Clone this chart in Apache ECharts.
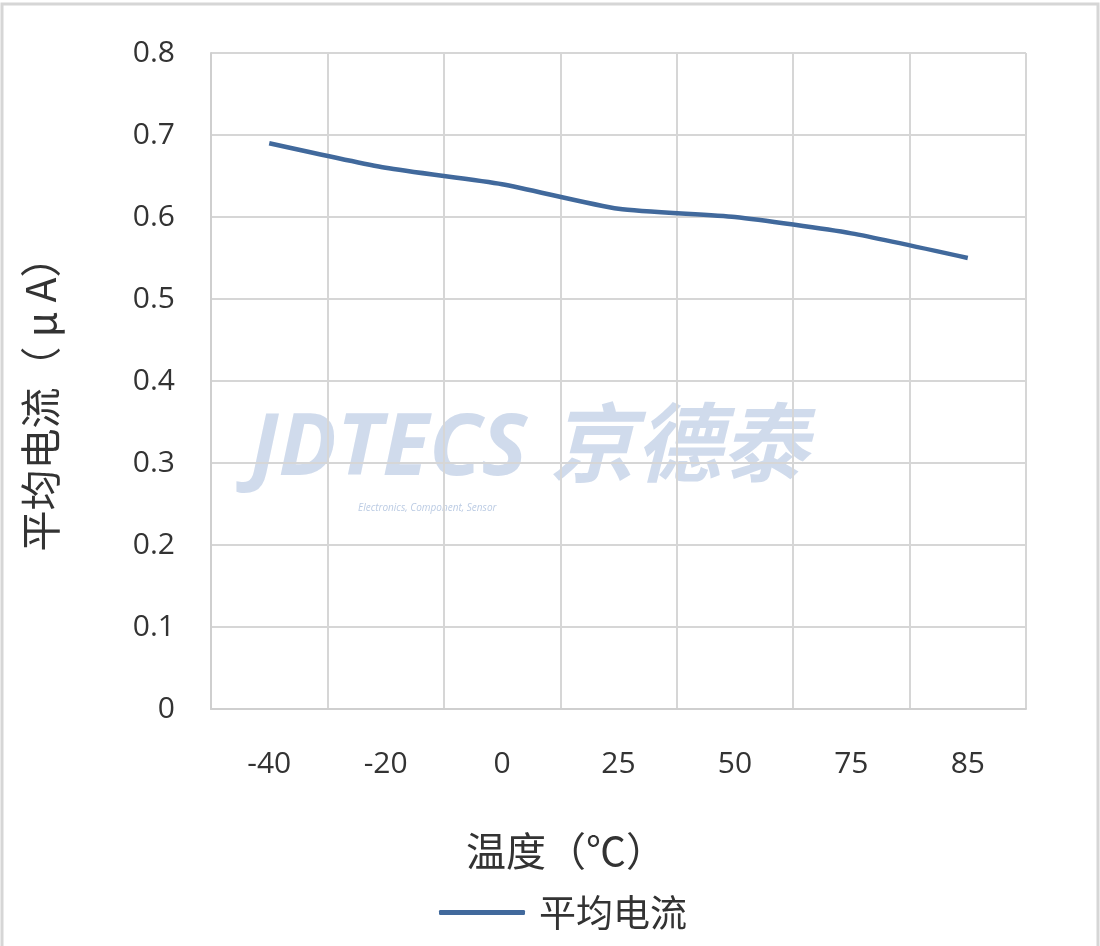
<!DOCTYPE html>
<html>
<head>
    <meta charset="utf-8">
    <title>平均电流</title>
    <script src="https://cdn.jsdelivr.net/npm/echarts@6/dist/echarts.min.js"></script>
    <style>
        html, body { margin: 0; padding: 0; background: #fff; }
    </style>
</head>
<body>
    <div id="main" style="width: 1100px;height:946px;"></div>
    <script type="text/javascript">
        // 数据
        var temps = ['-40', '-20', '0', '25', '50', '75', '85'];
        var current = [0.69, 0.66, 0.64, 0.61, 0.60, 0.58, 0.55];
        var seriesName = '平均电流';

        var font = 'Open Sans, "Noto Sans CJK SC", sans-serif';
        var cjk = '"Noto Sans CJK SC", sans-serif';

        var myChart = echarts.init(document.getElementById('main'));
        var option = {
            backgroundColor: '#fff',
            animation: false,
            graphic: [
                {
                    type: 'rect',
                    shape: { x: 2, y: 4, width: 1096, height: 960 },
                    style: { fill: 'none', stroke: '#d6d6d6', lineWidth: 3 },
                    silent: true
                },
                {
                    type: 'text',
                    left: 250, top: 407,
                    z: 0,
                    style: {
                        text: 'JDTECS 京德泰',
                        font: 'italic bold 86px ' + font,
                        fill: 'rgba(170,190,220,0.55)'
                    },
                    silent: true
                },
                {
                    type: 'text',
                    left: 358, top: 503,
                    z: 0,
                    style: {
                        text: 'Electronics, Component, Sensor',
                        font: 'italic 10px ' + font,
                        fill: 'rgba(170,190,220,0.8)'
                    },
                    silent: true
                }
            ],
            grid: {
                left: 211,
                right: 74,
                top: 53,
                bottom: 237
            },
            legend: {
                data: [seriesName],
                bottom: 10,
                left: 434,
                itemWidth: 86,
                itemHeight: 5,
                icon: 'roundRect',
                textStyle: { fontSize: 37, color: '#333', fontFamily: cjk, padding: [0, 0, 0, 9] }
            },
            xAxis: {
                type: 'category',
                data: temps,
                boundaryGap: true,
                name: '温度（℃）',
                nameLocation: 'middle',
                nameGap: 122,
                nameTextStyle: { fontSize: 40, color: '#333', fontFamily: cjk, padding: [0, 105, 0, 0] },
                axisLine: { lineStyle: { color: '#cfcfcf', width: 2 } },
                axisTick: { show: false },
                axisLabel: { fontSize: 30, color: '#333', margin: 40, fontFamily: font },
                splitLine: { show: true, lineStyle: { color: '#d6d6d6', width: 2 } }
            },
            yAxis: {
                type: 'value',
                min: 0,
                max: 0.8,
                interval: 0.1,
                name: '平均电流（ μ A）',
                nameLocation: 'middle',
                nameRotate: 90,
                nameGap: 150,
                nameTextStyle: { fontSize: 41, color: '#333', fontFamily: cjk, padding: [0, 26, 0, 0] },
                axisLine: { show: true, lineStyle: { color: '#cfcfcf', width: 2 } },
                axisTick: { show: false },
                axisLabel: { fontSize: 30, color: '#333', margin: 36, fontFamily: font },
                splitLine: { lineStyle: { color: '#d6d6d6', width: 2 } }
            },
            series: [{
                name: seriesName,
                type: 'line',
                data: current,
                smooth: 0.2,
                symbol: 'none',
                z: 5,
                lineStyle: { color: '#41699c', width: 4.5 },
                itemStyle: { color: '#41699c' }
            }]
        };
        myChart.setOption(option);
    </script>
</body>
</html>
